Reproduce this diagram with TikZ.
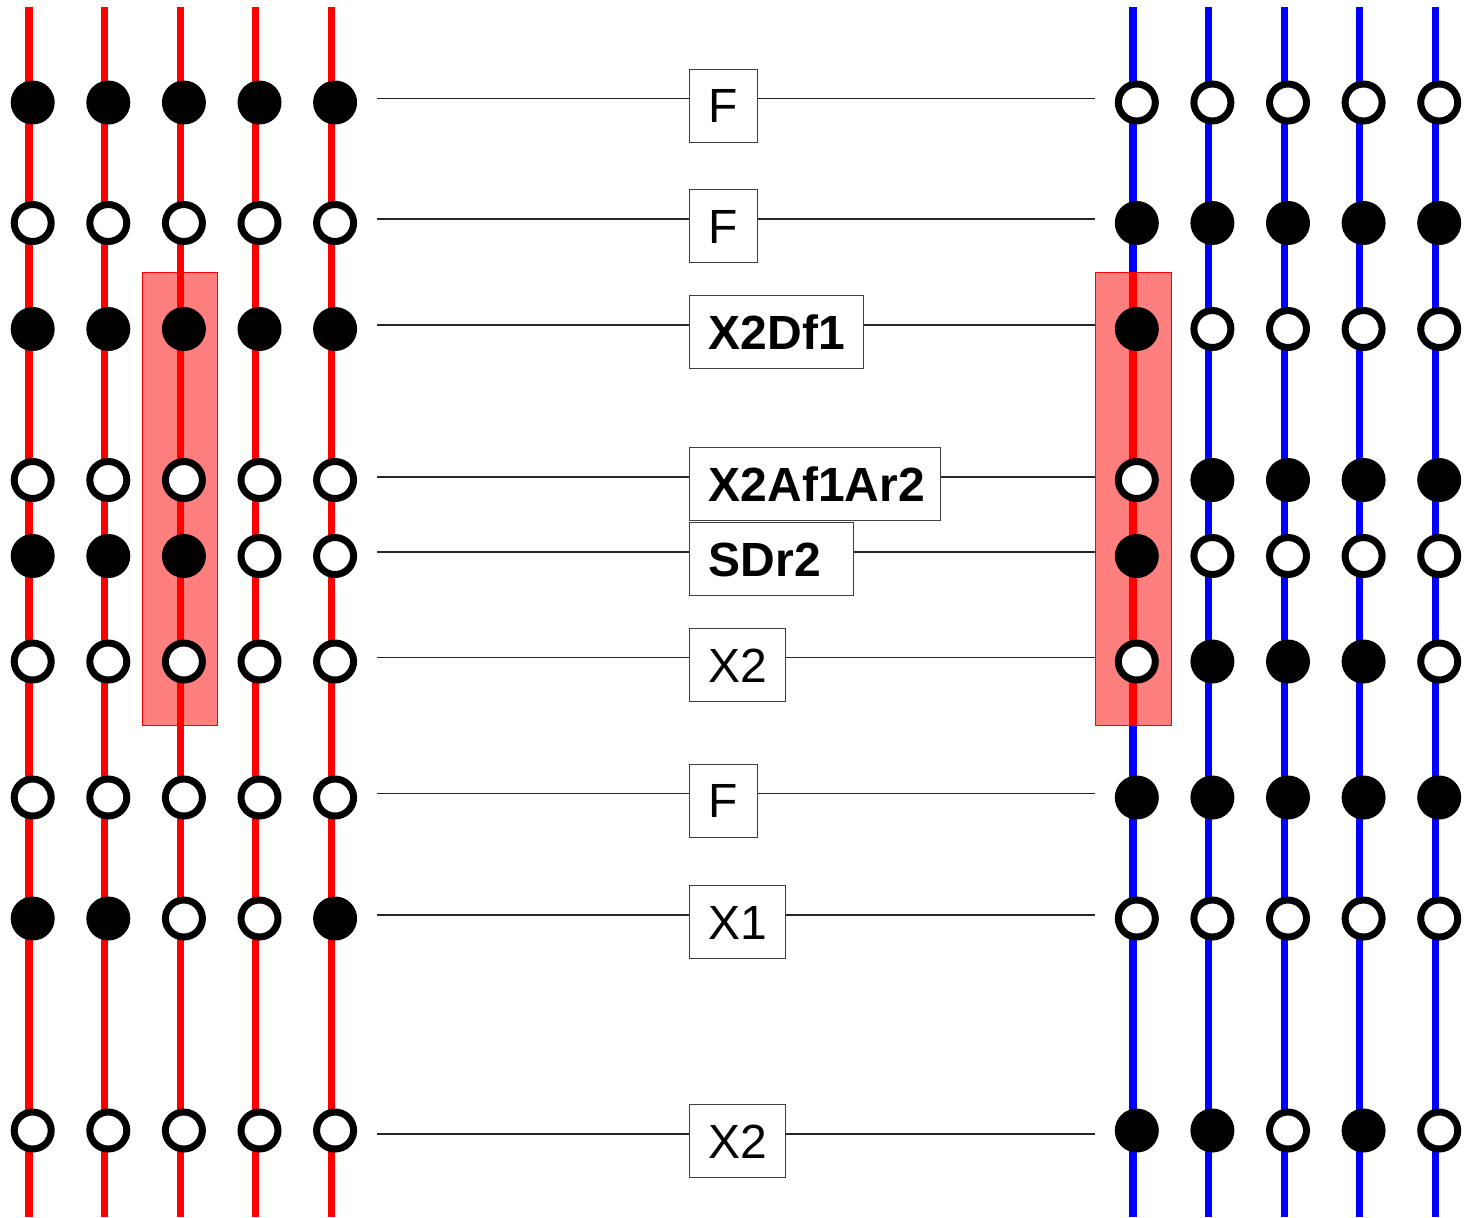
\documentclass[tikz,border=0pt]{standalone}
\usepackage{fontspec}
\setmainfont{Liberation Sans}
\begin{document}
\begin{tikzpicture}[x=0.5pt,y=-0.5pt,
  rail/.style={line width=3.65pt},
  dotf/.style={circle,fill=black,inner sep=0pt,minimum size=22pt},
  doto/.style={circle,draw=black,fill=white,line width=3.5pt,inner sep=0pt,minimum size=18.5pt},
  wire/.style={line width=0.75pt,black!85},
  gate/.style={draw=black!75,fill=white,line width=0.7pt,inner sep=0pt,anchor=north west,
    minimum height=36.5pt,text height=17.2pt,text depth=0pt,font=\fontsize{24}{24}\selectfont},
  hl/.style={fill=red,fill opacity=0.5,draw=red,line width=0.5pt}]
\useasboundingbox (0,0) rectangle (1466,1217);

% rails
\foreach \i in {0,...,4}{
  \draw[rail,red] (29+75.6*\i,7) -- (29+75.6*\i,1217);
  \draw[rail,blue] (1133+75.6*\i,7) -- (1133+75.6*\i,1217);
}

% gates and wires
\foreach \k/\ly/\w/\lab in {
  1/98.5/34/F,
  2/219/34/F,
  3/325/87/\textbf{X2Df1},
  4/477/125.5/\textbf{X2Af1Ar2},
  5/552/82/\textbf{SDr2},
  6/657.7/48/X2,
  7/793.5/34/F,
  8/915/48/X1,
  9/1134/48/X2}{
  \coordinate (L\k) at (377,\ly);
  \coordinate (R\k) at (1095,\ly);
  \node[gate] (B\k) at (689,\ly-30) {\makebox[\w pt][l]{\hspace{9.5pt}\lab}};
  \draw[wire] (L\k) -- (B\k.west |- L\k);
  \draw[wire] (B\k.east |- L\k) -- (R\k);
}

% highlight boxes
\draw[hl] (142,272) rectangle (217.7,725.7);
\draw[hl] (1095,272.3) rectangle (1171,725.7);
\coordinate (HT) at (1133,272.3);
\coordinate (HB) at (1133,725.7);
\draw[rail,red] (HT) -- (HB);

% dots
\foreach \r/\cy/\lp/\rp in {
  1/102.5/{dotf,dotf,dotf,dotf,dotf}/{doto,doto,doto,doto,doto},
  2/223/{doto,doto,doto,doto,doto}/{dotf,dotf,dotf,dotf,dotf},
  3/329/{dotf,dotf,dotf,dotf,dotf}/{dotf,doto,doto,doto,doto},
  4/480/{doto,doto,doto,doto,doto}/{doto,dotf,dotf,dotf,dotf},
  5/556/{dotf,dotf,dotf,doto,doto}/{dotf,doto,doto,doto,doto},
  6/661.5/{doto,doto,doto,doto,doto}/{doto,dotf,dotf,dotf,doto},
  7/797.5/{doto,doto,doto,doto,doto}/{dotf,dotf,dotf,dotf,dotf},
  8/918.5/{dotf,dotf,doto,doto,dotf}/{doto,doto,doto,doto,doto},
  9/1130.5/{doto,doto,doto,doto,doto}/{dotf,dotf,doto,dotf,doto}}{
  \foreach \s [count=\c from 0] in \lp {
    \node[\s] (l\r-\c) at (32.7+75.6*\c,\cy) {};
  }
  \foreach \s [count=\c from 0] in \rp {
    \node[\s] (r\r-\c) at (1136.8+75.6*\c,\cy) {};
  }
}
\end{tikzpicture}
\end{document}
